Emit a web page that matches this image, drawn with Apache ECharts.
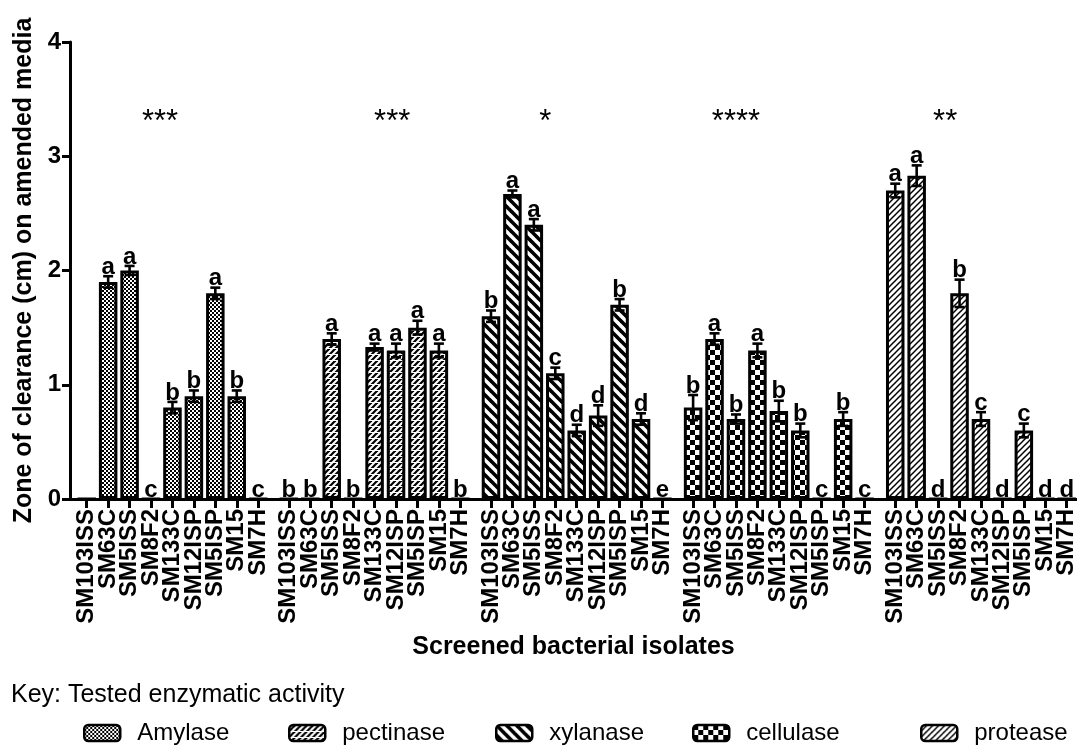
<!DOCTYPE html>
<html>
<head>
<meta charset="utf-8">
<script src="https://cdn.jsdelivr.net/npm/echarts@6/dist/echarts.min.js"></script>
<style>
html, body { margin: 0; padding: 0; background: #fff; }
#chart { width: 1077px; height: 745px; }
</style>
</head>
<body>
<div id="chart"></div>
<script>
// Isolates screened on each amended medium
const isolates = ['SM103ISS', 'SM63C', 'SM5ISS', 'SM8F2', 'SM133C', 'SM12ISP', 'SM5ISP', 'SM15', 'SM7H'];
const enzymes = ['Amylase', 'pectinase', 'xylanase', 'cellulase', 'protease'];

// Mean zone of clearance (cm), standard error and letter groupings per enzyme
const amylase        = [0, 1.90, 2.00, 0, 0.80, 0.90, 1.80, 0.90, 0];
const amylaseErr     = [0, 0.05, 0.04, 0, 0.05, 0.05, 0.05, 0.05, 0];
const amylaseGroups  = ['', 'a', 'a', 'c', 'b', 'b', 'a', 'b', 'c'];

const pectinase       = [0, 0, 1.40, 0, 1.33, 1.30, 1.50, 1.30, 0];
const pectinaseErr    = [0, 0, 0.05, 0, 0.03, 0.06, 0.06, 0.06, 0];
const pectinaseGroups = ['b', 'b', 'a', 'b', 'a', 'a', 'a', 'a', 'b'];

const xylanase       = [1.60, 2.67, 2.40, 1.10, 0.60, 0.73, 1.70, 0.70, 0];
const xylanaseErr    = [0.05, 0.03, 0.05, 0.05, 0.05, 0.09, 0.05, 0.05, 0];
const xylanaseGroups = ['b', 'a', 'a', 'c', 'd', 'd', 'b', 'd', 'e'];

const cellulase       = [0.80, 1.40, 0.70, 1.30, 0.77, 0.60, 0, 0.70, 0];
const cellulaseErr    = [0.11, 0.05, 0.04, 0.06, 0.09, 0.06, 0, 0.06, 0];
const cellulaseGroups = ['b', 'a', 'b', 'a', 'b', 'b', 'c', 'b', 'c'];

const protease       = [2.70, 2.83, 0, 1.80, 0.70, 0, 0.60, 0, 0];
const proteaseErr    = [0.06, 0.09, 0, 0.12, 0.06, 0, 0.06, 0, 0];
const proteaseGroups = ['a', 'a', 'd', 'b', 'c', 'd', 'c', 'd', 'd'];

// ANOVA significance for each enzyme
const significance = ['***', '***', '*', '****', '**'];

const yTicks = [0, 1, 2, 3, 4];

// ---- layout ----
const FONT = '"Liberation Sans", Arial, sans-serif';
const GROUP_STRIDE = 9.43;                        // axis units between first bars of neighbouring groups
const X_MIN = -0.78, X_MAX = 46.2;
const starOffset = [3.42, 4.82, 2.53, 2.0, 2.33]; // where each significance mark sits within its group
const STAR_Y = 3.3;
const legendLeft = [83, 288, 495, 692, 920];

const means   = [amylase, pectinase, xylanase, cellulase, protease];
const errors  = [amylaseErr, pectinaseErr, xylanaseErr, cellulaseErr, proteaseErr];
const letters = [amylaseGroups, pectinaseGroups, xylanaseGroups, cellulaseGroups, proteaseGroups];

const xPos = (g, i) => g * GROUP_STRIDE + i;
const allPos = [];
const allNames = [];
enzymes.forEach((_, g) => isolates.forEach((name, i) => { allPos.push(xPos(g, i)); allNames.push(name); }));
// the axis ends carry an empty, hidden label/tick so that every isolate keeps its own
const axisMarks = [X_MIN, ...allPos, X_MAX];

function nameAt(v) {
  if (v <= X_MIN + 0.01 || v >= X_MAX - 0.01) return '';
  let best = 0;
  for (let k = 1; k < allPos.length; k++) {
    if (Math.abs(allPos[k] - v) < Math.abs(allPos[best] - v)) best = k;
  }
  return allNames[best];
}

// ---- fill patterns ----
function tile(w, h, draw) {
  const c = document.createElement('canvas');
  c.width = w; c.height = h;
  const ctx = c.getContext('2d');
  ctx.fillStyle = '#fff';
  ctx.fillRect(0, 0, w, h);
  ctx.fillStyle = '#000';
  ctx.strokeStyle = '#000';
  draw(ctx, w, h);
  return { image: c, repeat: 'repeat' };
}
function diagonal(ctx, w, h, lw, slash) {
  ctx.lineWidth = lw;
  ctx.lineCap = 'square';
  for (let x0 = -w; x0 <= w; x0 += w) {
    ctx.beginPath();
    if (slash) { ctx.moveTo(x0, h); ctx.lineTo(x0 + w, 0); }
    else { ctx.moveTo(x0, 0); ctx.lineTo(x0 + w, h); }
    ctx.stroke();
  }
}
const patterns = [
  // fine checks
  tile(4, 4, ctx => { ctx.fillRect(0, 0, 2, 2); ctx.fillRect(2, 2, 2, 2); }),
  // broken forward hatching
  tile(6, 6, (ctx, w, h) => {
    diagonal(ctx, w, h, 2.2, true);
    ctx.fillStyle = '#fff';
    ctx.fillRect(0, 0, 6, 1);
  }),
  // wide back-slash stripes
  tile(10, 10, (ctx, w, h) => diagonal(ctx, w, h, 3.6, false)),
  // coarse checks
  tile(10, 10, ctx => { ctx.fillRect(0, 0, 5, 5); ctx.fillRect(5, 5, 5, 5); }),
  // thin forward hatching
  tile(6, 6, (ctx, w, h) => diagonal(ctx, w, h, 1.5, true))
];

// ---- series ----
const barSeries = enzymes.map((name, g) => ({
  name: name,
  type: 'bar',
  barWidth: 18.5,
  barGap: '-100%',
  itemStyle: { color: patterns[g], borderColor: '#000', borderWidth: 3 },
  data: means[g].map((v, i) => [xPos(g, i), v]),
  z: 2
}));

const errData = [];
const errLetters = [];
enzymes.forEach((_, g) => means[g].forEach((v, i) => {
  errData.push([xPos(g, i), v, errors[g][i]]);
  errLetters.push(letters[g][i]);
}));

const errorSeries = {
  type: 'custom',
  name: 'error',
  z: 5,
  data: errData,
  renderItem: (params, api) => {
    const x = api.value(0), v = api.value(1), e = api.value(2);
    const hi = api.coord([x, v + e]);
    const lo = api.coord([x, v - e]);
    const children = [];
    const cap = 5;
    if (e > 0) {
      const line = (x1, y1, x2, y2) => ({
        type: 'line', shape: { x1, y1, x2, y2 },
        style: { stroke: '#000', lineWidth: 2.6 }
      });
      children.push(line(hi[0], hi[1], lo[0], lo[1]));
      children.push(line(hi[0] - cap, hi[1], hi[0] + cap, hi[1]));
      children.push(line(lo[0] - cap, lo[1], lo[0] + cap, lo[1]));
    }
    const txt = errLetters[params.dataIndex];
    if (txt) {
      children.push({
        type: 'text',
        style: {
          text: txt, x: hi[0], y: hi[1] + 3,
          align: 'center', verticalAlign: 'bottom',
          font: 'bold 24px ' + FONT, fill: '#000'
        }
      });
    }
    return { type: 'group', children };
  }
};

const starSeries = {
  type: 'custom',
  name: 'significance',
  z: 5,
  data: significance.map((s, g) => [xPos(g, 0) + starOffset[g], STAR_Y]),
  renderItem: (params, api) => {
    const p = api.coord([api.value(0), api.value(1)]);
    return {
      type: 'text',
      style: {
        text: significance[params.dataIndex], x: p[0], y: p[1],
        align: 'center', verticalAlign: 'middle',
        font: '31px ' + FONT, fill: '#000'
      }
    };
  }
};

const chart = echarts.init(document.getElementById('chart'), null, { renderer: 'canvas' });
chart.setOption({
  animation: false,
  backgroundColor: '#fff',
  title: {
    text: 'Key: Tested enzymatic activity',
    left: 6, top: 678,
    textStyle: { fontFamily: FONT, fontWeight: 'normal', fontSize: 25, color: '#000' }
  },
  legend: enzymes.map((name, g) => ({
    data: [name],
    left: legendLeft[g], top: 721,
    padding: 0,
    icon: 'roundRect',
    itemWidth: 36, itemHeight: 16,
    selectedMode: false,
    itemStyle: { borderColor: '#000', borderWidth: 2.5 },
    textStyle: { fontFamily: FONT, fontSize: 24, color: '#000', padding: [0, 0, 0, 12] }
  })),
  grid: { left: 70, top: 42, width: 1007, height: 457, containLabel: false, outerBoundsMode: 'none' },
  xAxis: {
    type: 'value',
    min: X_MIN, max: X_MAX,
    name: 'Screened bacterial isolates',
    nameLocation: 'middle',
    nameGap: 136,
    nameTextStyle: { fontFamily: FONT, fontWeight: 'bold', fontSize: 25, color: '#000' },
    axisLine: { show: true, onZero: false, lineStyle: { color: '#000', width: 3 } },
    axisTick: { show: true, customValues: axisMarks, length: 9, lineStyle: { color: '#000', width: 3 } },
    axisLabel: {
      customValues: axisMarks,
      rotate: 90,
      margin: 10,
      showMinLabel: false,
      showMaxLabel: false,
      hideOverlap: false,
      formatter: v => nameAt(v),
      fontFamily: FONT, fontWeight: 'bold', fontSize: 24, color: '#000'
    },
    splitLine: { show: false }
  },
  yAxis: {
    type: 'value',
    min: yTicks[0], max: yTicks[yTicks.length - 1], interval: 1,
    name: 'Zone of clearance (cm) on amended media',
    nameLocation: 'middle',
    nameGap: 32,
    nameTextStyle: { fontFamily: FONT, fontWeight: 'bold', fontSize: 25, color: '#000' },
    axisLine: { show: true, onZero: false, lineStyle: { color: '#000', width: 3 } },
    axisTick: { show: true, length: 8, lineStyle: { color: '#000', width: 3 } },
    axisLabel: { margin: 9, fontFamily: FONT, fontWeight: 'bold', fontSize: 24, color: '#000' },
    splitLine: { show: false }
  },
  series: [...barSeries, errorSeries, starSeries]
});
</script>
</body>
</html>
